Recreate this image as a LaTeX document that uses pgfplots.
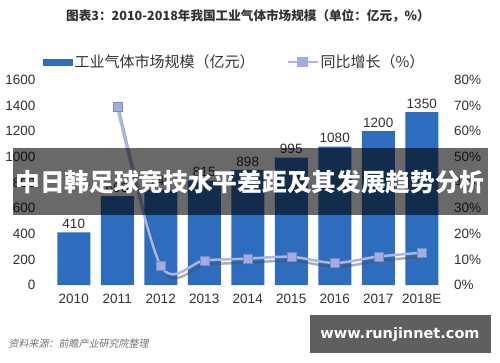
\documentclass[border=0pt]{standalone}
\usepackage{pgfplots}
\pgfplotsset{compat=1.18}
\usepackage{fontspec}
\setmainfont{Liberation Sans}
\newfontfamily\cjk{Noto Sans CJK SC}
\newfontfamily\cjkit{Noto Sans CJK SC}[FakeSlant=0.2]
\newfontfamily\webfont{DejaVu Sans}
\definecolor{barblue}{RGB}{46,109,190}
\definecolor{linec}{RGB}{168,182,232}
\definecolor{markc}{RGB}{160,172,228}
\definecolor{txt}{RGB}{50,50,50}
\definecolor{boxgray}{RGB}{95,95,95}
\pgfplotstableread{
x val
0 410
1 693
2 745
3 815
4 898
5 995
6 1080
7 1200
8 1350
}\bars
\pgfplotstableread{
x g
1 69.5
2 7.5
3 9.6
4 10.3
5 11.0
6 8.6
7 11.1
8 12.6
}\growth
\begin{document}
\begin{tikzpicture}[x=1pt,y=1pt]
\fill[white] (0,0) rectangle (500,362);
\path[use as bounding box] (0,0) rectangle (500,362);
\node[text=txt,font=\cjk\bfseries\fontsize{12.6}{14}\selectfont] at (248,346) {图表3：2010-2018年我国工业气体市场规模（单位：亿元，\%）};
\begin{axis}[at={(52pt,77pt)}, anchor=south west, width=391.5pt, height=205pt, scale only axis,
  xmin=-0.5, xmax=8.5, ymin=0, ymax=1600,
  ytick={0,200,...,1600}, xtick={0,...,8},
  xticklabels={2010,2011,2012,2013,2014,2015,2016,2017,2018E},
  axis line style={draw=none}, major tick length=0pt,
  /pgf/number format/assume math mode=true, /pgf/number format/1000 sep={},
  tick label style={font=\fontsize{13.5}{15}\selectfont, text=txt},
  yticklabel style={xshift=-13pt},
  xticklabel style={yshift=-6pt},
  ybar, bar width=33pt,
  nodes near coords,
  nodes near coords style={font=\fontsize{13.5}{15}\selectfont, text=txt},
  axis y line*=left]
\addplot[fill=barblue, draw=none] table[x=x,y=val]{\bars};
\end{axis}
\begin{axis}[at={(52pt,77pt)}, anchor=south west, width=391.5pt, height=205pt, scale only axis,
  xmin=-0.5, xmax=8.5, ymin=0, ymax=80,
  ytick={0,10,...,80}, xtick=\empty,
  axis y line*=right, axis x line=none,
  axis line style={draw=none}, major tick length=0pt,
  /pgf/number format/assume math mode=true,
  yticklabel={\pgfmathprintnumber{\tick}\%},
  tick label style={font=\fontsize{13.5}{15}\selectfont, text=txt},
  yticklabel style={xshift=7pt},
  legend style={at={(-0.023,1.088)}, anchor=west, draw=none, fill=none,
    legend columns=2, font=\cjk\fontsize{15}{17}\selectfont, text=txt,
    inner sep=0pt, /tikz/every even column/.append style={column sep=30pt}},
  legend cell align=left]
\addlegendimage{legend image code/.code={\fill[barblue] (0pt,-3pt) rectangle (29pt,3pt);}}
\addlegendentry{工业气体市场规模（亿元）}
\addplot[smooth, tension=0.5, black!70, opacity=0.45, line width=2.5pt, xshift=2pt, yshift=-4pt, forget plot] table[x=x,y=g]{\growth};
\addplot[smooth, tension=0.5, linec, line width=2.5pt, mark=square*, mark size=4.5pt,
  mark options={fill=markc, draw=markc!80!black, line width=0.4pt},
  legend image code/.code={\draw[linec, line width=2pt] (0pt,0pt)--(30pt,0pt); \fill[markc] (11pt,-4pt) rectangle (19pt,4pt);}] table[x=x,y=g]{\growth};
\addlegendentry{同比增长（\%）}
\end{axis}
\fill[black, opacity=0.59] (13,147) rectangle (488,214);
\node[text=white, font=\cjk\bfseries\fontsize{24.7}{26}\selectfont] at (250,180) {中日韩足球竞技水平差距及其发展趋势分析};
\node[anchor=west, text=black!55, font=\cjkit\fontsize{10}{12}\selectfont] at (5,18) {资料来源：前瞻产业研究院整理};
\fill[boxgray] (310,9) rectangle (491,47);
\node[text=white, font=\webfont\bfseries\fontsize{14.5}{16}\selectfont] at (400,27) {www.runjinnet.com};
\end{tikzpicture}
\end{document}
